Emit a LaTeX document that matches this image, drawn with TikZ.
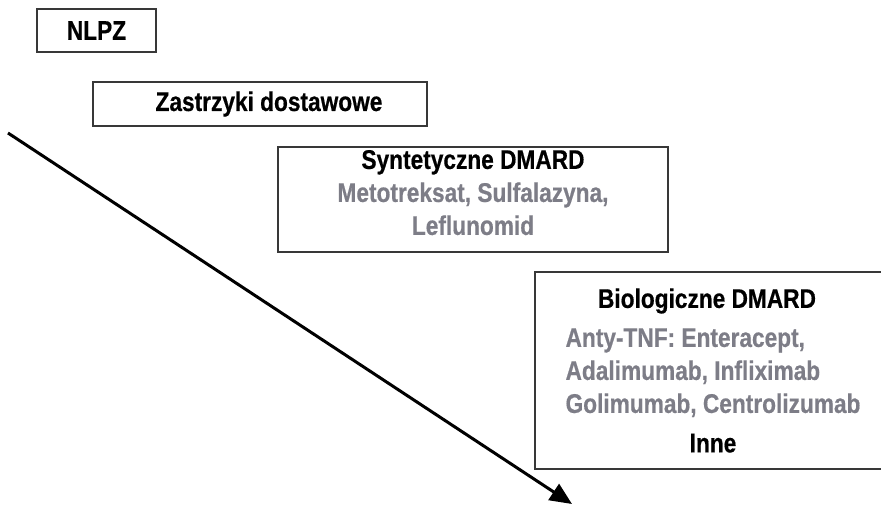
\documentclass[tikz,border=0pt]{standalone}
\usepackage{fontspec}
\setmainfont{Liberation Sans}[FakeStretch=0.84,BoldFeatures={FakeBold=0.5}]
\usepackage{xcolor}
\usetikzlibrary{arrows.meta,positioning}
\definecolor{drugGray}{RGB}{125,125,135}

\begin{document}
\begin{tikzpicture}[x=1pt,y=-1pt,
    stage/.style={rectangle,draw=black!78,line width=2pt,fill=white,
                  align=center,inner sep=0pt,
                  font=\bfseries\fontsize{27}{33}\selectfont},
    line/.style={draw,line width=3pt,-{Triangle[length=22pt,width=19pt]}}]
    \useasboundingbox (0,0) rectangle (881,508);
    \clip (0,0) rectangle (881,508);
    \node[stage,anchor=north west,minimum width=119pt,minimum height=43pt](nlpz) at (36,8){NLPZ};
    \node[stage,below right=28pt and 56pt of nlpz.south west,
          minimum width=334pt,minimum height=44pt](zastrz){\hspace*{18pt}Zastrzyki dostawowe};
    \node[stage,below right=19pt and 185pt of zastrz.south west,
          minimum width=390pt,minimum height=105pt](synt){Syntetyczne DMARD\\
          \textcolor{drugGray}{Metotreksat, Sulfalazyna,}\\
          \textcolor{drugGray}{Leflunomid}\\[-19pt]{}};
    \node[stage,below right=18pt and 257pt of synt.south west,
          minimum width=356pt,minimum height=197pt](bio){\hspace*{-12pt}Biologiczne DMARD\\[6pt]
          {\color{drugGray}\begin{tabular}[t]{@{}l@{}}Anty-TNF: Enteracept,\\
          Adalimumab, Infliximab\\Golimumab, Centrolizumab\end{tabular}}\\[10pt]
          Inne};
    % timeline arrow
    \coordinate (tstart) at (8,133);
    \coordinate (tend) at (572,504);
    \draw[line](tstart)--(tend);
\end{tikzpicture}
\end{document}
